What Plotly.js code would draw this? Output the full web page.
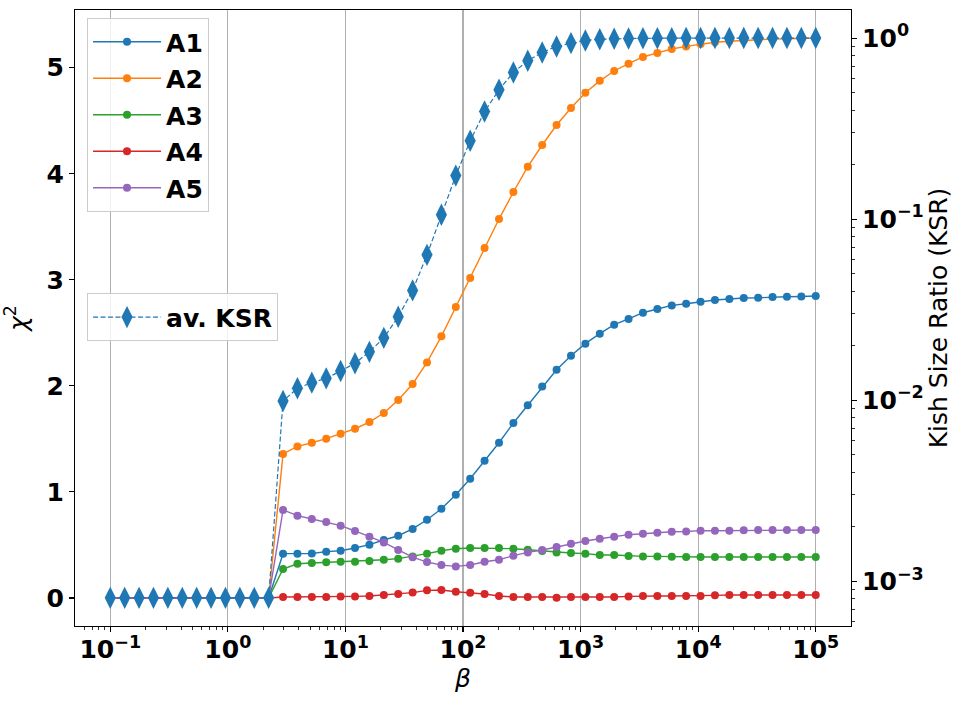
<!DOCTYPE html>
<html>
<head>
<meta charset="utf-8">
<script src="https://cdn.plot.ly/plotly-3.0.1.min.js"></script>
<style>
  body { margin: 0; background: white; }
  #chart { width: 961px; height: 706px; }
</style>
</head>
<body>
<div id="chart"></div>
<script>
// beta values (50 log-spaced points from 0.1 to 1e5)
const beta = [0.1, 0.1326, 0.1758, 0.2330, 0.3089, 0.4095, 0.5429, 0.7197, 0.9541, 1.265,
  1.677, 2.223, 2.947, 3.907, 5.179, 6.866, 9.103, 12.07, 16.00, 21.21,
  28.12, 37.28, 49.42, 65.51, 86.85, 115.1, 152.6, 202.4, 268.3, 355.6,
  471.5, 625.1, 828.6, 1098.5, 1456.3, 1930.7, 2559.5, 3393.2, 4498.4, 5963.6,
  7906.0, 10481, 13895, 18421, 24421, 32375, 42919, 56899, 75431, 100000];

const chiA1 = [0, 0, 0, 0, 0, 0, 0, 0, 0, 0, 0, 0,
  0.418, 0.418, 0.420, 0.437, 0.446, 0.471, 0.503, 0.547, 0.587, 0.651,
  0.738, 0.842, 0.974, 1.125, 1.295, 1.464, 1.650, 1.818, 1.994, 2.152,
  2.285, 2.398, 2.492, 2.577, 2.631, 2.690, 2.725, 2.759, 2.775, 2.794,
  2.810, 2.819, 2.829, 2.831, 2.838, 2.841, 2.843, 2.847];
const chiA2 = [0, 0, 0, 0, 0, 0, 0, 0, 0, 0, 0, 0,
  1.358, 1.429, 1.464, 1.502, 1.549, 1.596, 1.659, 1.744, 1.867, 2.018,
  2.221, 2.467, 2.744, 3.017, 3.300, 3.573, 3.828, 4.067, 4.271, 4.460,
  4.620, 4.764, 4.876, 4.969, 5.038, 5.101, 5.139, 5.176, 5.201, 5.224,
  5.240, 5.250, 5.258, 5.264, 5.269, 5.273, 5.276, 5.280];
const chiA3 = [0, 0, 0, 0, 0, 0, 0, 0, 0, 0, 0, 0,
  0.273, 0.323, 0.330, 0.336, 0.342, 0.342, 0.349, 0.361, 0.371, 0.392,
  0.418, 0.446, 0.465, 0.471, 0.471, 0.471, 0.465, 0.455, 0.443, 0.430,
  0.424, 0.418, 0.405, 0.405, 0.395, 0.392, 0.392, 0.388, 0.386, 0.386,
  0.386, 0.386, 0.386, 0.386, 0.386, 0.386, 0.386, 0.386];
const chiA4 = [0, 0, 0, 0, 0, 0, 0, 0, 0, 0, 0, 0,
  0.009, 0.009, 0.009, 0.010, 0.015, 0.015, 0.019, 0.028, 0.038, 0.051,
  0.072, 0.075, 0.059, 0.050, 0.038, 0.019, 0.009, 0.009, 0.009, 0.003,
  0.009, 0.009, 0.009, 0.010, 0.015, 0.019, 0.019, 0.019, 0.019, 0.020,
  0.025, 0.028, 0.028, 0.028, 0.028, 0.028, 0.028, 0.028];
const chiA5 = [0, 0, 0, 0, 0, 0, 0, 0, 0, 0, 0, 0,
  0.830, 0.776, 0.745, 0.717, 0.682, 0.632, 0.578, 0.524, 0.453, 0.385,
  0.339, 0.310, 0.298, 0.311, 0.342, 0.361, 0.399, 0.430, 0.453, 0.481,
  0.512, 0.537, 0.559, 0.578, 0.597, 0.606, 0.616, 0.625, 0.627, 0.635,
  0.634, 0.635, 0.638, 0.640, 0.641, 0.641, 0.641, 0.641];
const ksr = [0.00081, 0.00081, 0.00081, 0.00081, 0.00081, 0.00081, 0.00081, 0.00081, 0.00081, 0.00081, 0.00081, 0.00081,
  0.0099, 0.01165, 0.0125, 0.0132, 0.0145, 0.0160, 0.0185, 0.0221, 0.0289, 0.0404,
  0.0635, 0.1057, 0.174, 0.271, 0.393, 0.518, 0.646, 0.749, 0.833, 0.899,
  0.938, 0.970, 0.985, 0.992, 0.995, 0.997, 0.998, 0.999, 1.0, 1.0,
  1.0, 1.0, 1.0, 1.0, 1.0, 1.0, 1.0, 1.0];

const seriesNames = ['A1', 'A2', 'A3', 'A4', 'A5'];
const seriesColors = ['#1f77b4', '#ff7f0e', '#2ca02c', '#d62728', '#9467bd'];
const xTickVals = [0.1, 1, 10, 100, 1000, 10000, 100000];
const xTickText = ['10<sup>−1</sup>', '10<sup>0</sup>', '10<sup>1</sup>', '10<sup>2</sup>',
  '10<sup>3</sup>', '10<sup>4</sup>', '10<sup>5</sup>'];
const y2TickVals = [0.001, 0.01, 0.1, 1];
const y2TickText = ['10<sup>−3</sup>', '10<sup>−2</sup>', '10<sup>−1</sup>', '10<sup>0</sup>'];

function minorTicks(lo, hi) {
  let vals = [];
  for (let e = lo; e <= hi; e++) {
    for (let d = 2; d <= 9; d++) vals.push(d * Math.pow(10, e));
  }
  return vals;
}

const font = 'DejaVu Sans, sans-serif';
const fs = 25;
const chis = [chiA1, chiA2, chiA3, chiA4, chiA5];

var data = [];
for (var i = 0; i < chis.length; i++) {
  data.push({
    x: beta,
    y: chis[i],
    mode: 'lines+markers',
    type: 'scatter',
    name: seriesNames[i],
    legend: 'legend',
    legendgroup: seriesNames[i],
    line: { color: seriesColors[i], width: 1.4 },
    marker: { color: seriesColors[i], size: 8, symbol: 'circle' }
  });
}
data.push({
  x: beta,
  y: ksr,
  yaxis: 'y2',
  mode: 'lines+markers',
  type: 'scatter',
  name: 'av. KSR',
  legend: 'legend2',
  line: { color: '#1f77b4', width: 1.2, dash: '5px,2.5px' },
  marker: { color: '#1f77b4', size: 16, symbol: 'diamond-tall' }
});

const tickStyle = {
  ticks: 'outside', ticklen: 5, tickwidth: 1.1, tickcolor: 'black',
  showline: true, linecolor: 'black', linewidth: 1.1,
  zeroline: false,
  tickfont: { family: font, size: fs, color: 'black', weight: 'bold' }
};

var layout = {
  width: 961,
  height: 706,
  margin: { l: 75, r: 110, t: 10, b: 80 },
  paper_bgcolor: 'white',
  plot_bgcolor: 'white',
  font: { family: font, size: fs, color: 'black' },
  showlegend: true,
  xaxis: Object.assign({}, tickStyle, {
    type: 'log',
    range: [-1.3, 5.3],
    tickmode: 'array',
    tickvals: xTickVals,
    ticktext: xTickText,
    ticklabelstandoff: -4,
    mirror: true,
    showgrid: true,
    gridcolor: '#b0b0b0',
    gridwidth: 1.1,
    minor: { tickmode: 'array', tickvals: minorTicks(-2, 5), ticks: 'outside', ticklen: 3, tickwidth: 0.8, tickcolor: 'black', showgrid: false },
    title: { text: '<i>β</i>', font: { family: font, size: fs }, standoff: 4 }
  }),
  yaxis: Object.assign({}, tickStyle, {
    range: [-0.264, 5.544],
    tickmode: 'array',
    tickvals: [0, 1, 2, 3, 4, 5],
    showgrid: false,
    title: { text: '<i>χ</i><sup>2</sup>', font: { family: font, size: fs }, standoff: 20 }
  }),
  yaxis2: Object.assign({}, tickStyle, {
    type: 'log',
    overlaying: 'y',
    side: 'right',
    range: [-3.247, 0.155],
    tickmode: 'array',
    tickvals: y2TickVals,
    ticktext: y2TickText,
    showgrid: false,
    minor: { tickmode: 'array', tickvals: minorTicks(-4, 0), ticks: 'outside', ticklen: 3, tickwidth: 0.8, tickcolor: 'black', showgrid: false },
    title: { text: 'Kish Size Ratio (KSR)', font: { family: font, size: fs }, standoff: 6 }
  }),
  legend: {
    x: 0.0155, y: 0.987, xanchor: 'left', yanchor: 'top',
    bgcolor: 'rgba(255,255,255,0.8)', bordercolor: '#cccccc', borderwidth: 1,
    font: { family: font, size: fs, color: 'black', weight: 'bold' },
    itemwidth: 68, tracegroupgap: 1
  },
  legend2: {
    x: 0.0155, y: 0.540, xanchor: 'left', yanchor: 'top',
    bgcolor: 'rgba(255,255,255,0.8)', bordercolor: '#cccccc', borderwidth: 1,
    font: { family: font, size: fs, color: 'black', weight: 'bold' },
    itemwidth: 68
  }
};

Plotly.newPlot('chart', data, layout, { staticPlot: true });
</script>
</body>
</html>
